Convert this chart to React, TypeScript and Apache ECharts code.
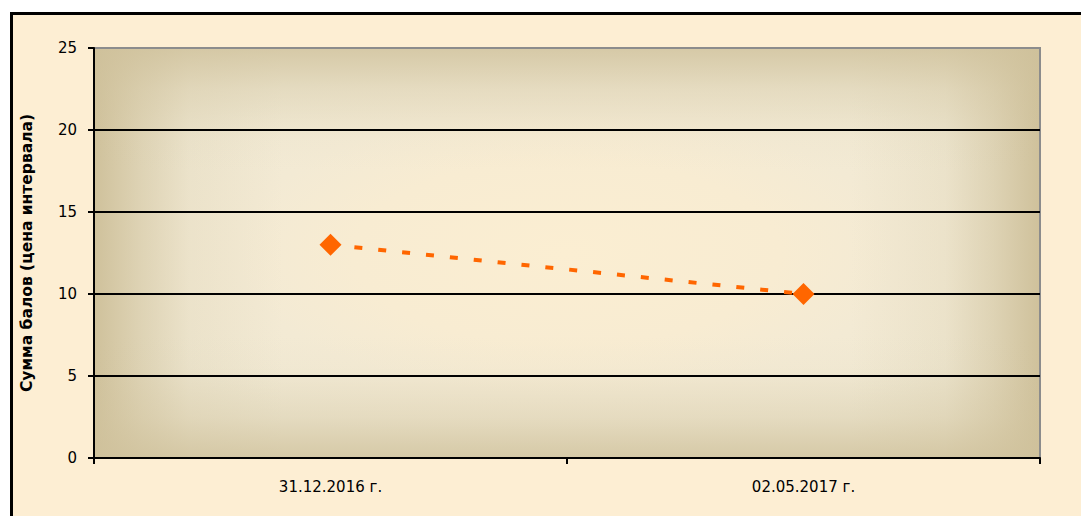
import React, { useEffect, useRef } from "react";
import * as echarts from "echarts";

const categories = ["31.12.2016 г.", "02.05.2017 г."];
const values = [13, 10];
const yMin = 0;
const yMax = 25;
const yStep = 5;
const yTitle = "Сумма балов (цена интервала)";

export default function App() {
  const ref = useRef<HTMLDivElement>(null);

  useEffect(() => {
    if (!ref.current) return;
    const chart = echarts.init(ref.current, undefined, { renderer: "svg" });
    const gl = 94, gt = 48, gw = 946, gh = 410;
    const tan = (a: number) => `rgba(207,193,155,${a})`;
    chart.setOption({
      animation: false,
      backgroundColor: "transparent",
      textStyle: { fontFamily: "DejaVu Sans" },
      graphic: [
        {
          type: "rect",
          z: -10,
          x: gl,
          y: gt,
          scaleY: gh / gw,
          shape: { x: 0, y: 0, width: gw, height: gw },
          style: {
            fill: new echarts.graphic.RadialGradient(0.5, 0.5, 0.5, [
              { offset: 0, color: "#FBEED2" },
              { offset: 0.45, color: "#F8ECD2" },
              { offset: 0.7, color: "#F3EAD4" },
              { offset: 1, color: "#F0E9D4" },
            ]),
          },
          silent: true,
        },
        {
          type: "rect",
          z: -9,
          shape: { x: gl, y: gt, width: gw, height: gh },
          style: {
            fill: new echarts.graphic.LinearGradient(0, 0, 1, 0, [
              { offset: 0, color: tan(1) },
              { offset: 0.05, color: tan(0.55) },
              { offset: 0.1, color: tan(0.18) },
              { offset: 0.2, color: tan(0) },
              { offset: 0.8, color: tan(0) },
              { offset: 0.9, color: tan(0.18) },
              { offset: 0.95, color: tan(0.55) },
              { offset: 1, color: tan(1) },
            ]),
          },
          silent: true,
        },
        {
          type: "rect",
          z: -8,
          shape: { x: gl, y: gt, width: gw, height: gh },
          style: {
            fill: new echarts.graphic.LinearGradient(0, 0, 0, 1, [
              { offset: 0, color: tan(0.8) },
              { offset: 0.1, color: tan(0.35) },
              { offset: 0.22, color: tan(0.04) },
              { offset: 0.3, color: tan(0) },
              { offset: 0.7, color: tan(0) },
              { offset: 0.78, color: tan(0.04) },
              { offset: 0.9, color: tan(0.35) },
              { offset: 1, color: tan(0.8) },
            ]),
          },
          silent: true,
        },
      ],
      grid: {
        left: gl,
        top: gt,
        width: gw,
        height: gh,
        show: true,
        backgroundColor: "transparent",
        borderColor: "#8C8C8C",
        borderWidth: 2,
        containLabel: false,
      },
      xAxis: {
        type: "category",
        data: categories,
        boundaryGap: true,
        z: 5,
        axisLine: { show: true, lineStyle: { color: "#000", width: 2 } },
        axisTick: { show: true, length: 6, lineStyle: { color: "#000", width: 2 } },
        axisLabel: { color: "#000", fontSize: 15, margin: 21, fontFamily: "DejaVu Sans" },
        splitLine: { show: false },
      },
      yAxis: {
        type: "value",
        min: yMin,
        max: yMax,
        interval: yStep,
        z: 5,
        name: yTitle,
        nameLocation: "middle",
        nameGap: 59,
        nameTextStyle: { color: "#000", fontSize: 15.5, fontWeight: "bold", fontFamily: "DejaVu Sans" },
        axisLine: { show: true, lineStyle: { color: "#000", width: 2 } },
        axisTick: { show: true, length: 6, lineStyle: { color: "#000", width: 2 } },
        axisLabel: { color: "#000", fontSize: 15, margin: 17, fontFamily: "DejaVu Sans" },
        splitLine: {
          show: true,
          showMaxLine: false,
          lineStyle: { color: "#000", width: 2 },
        },
      },
      series: [
        {
          type: "line",
          data: values,
          z: 10,
          symbol: "diamond",
          symbolSize: 22,
          itemStyle: { color: "#FF6600" },
          lineStyle: { color: "#FF6600", width: 4, type: [8, 16], cap: "butt" },
        },
      ],
    });
    return () => chart.dispose();
  }, []);

  return (
    <div
      style={{
        position: "absolute",
        left: 0,
        top: 0,
        width: 1081,
        height: 516,
        background: "#fff",
        overflow: "hidden",
      }}
    >
      <div
        style={{
          position: "absolute",
          left: 10,
          top: 12,
          width: 1100,
          height: 530,
          border: "3px solid #000",
          background: "#FDEED3",
        }}
      />
      <div
        ref={ref}
        style={{ position: "absolute", left: 0, top: 0, width: 1081, height: 516 }}
      />
    </div>
  );
}
